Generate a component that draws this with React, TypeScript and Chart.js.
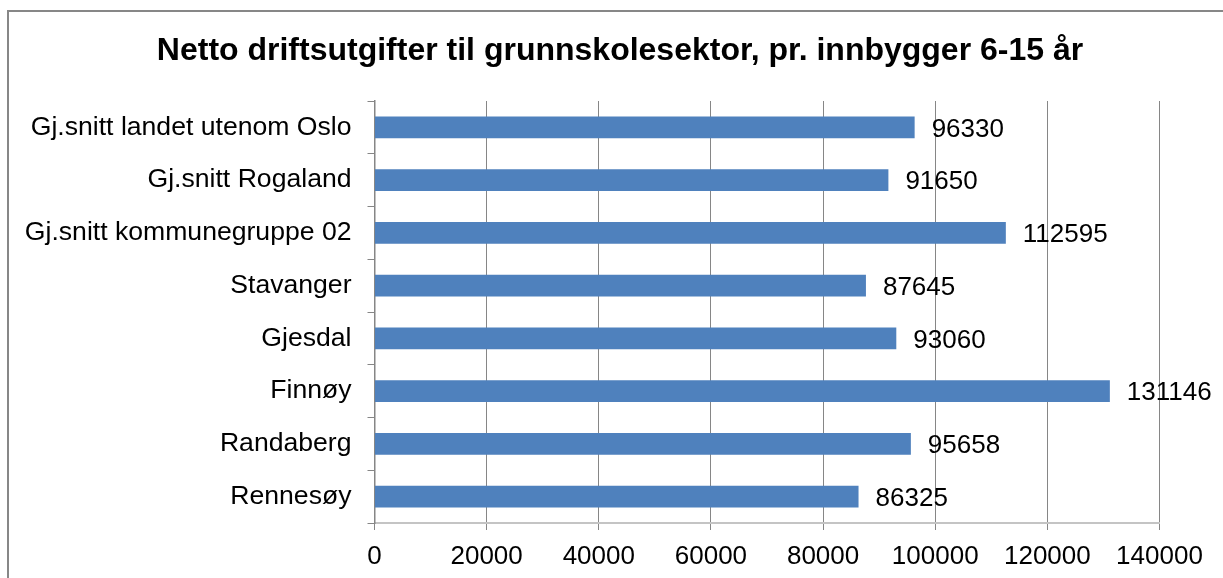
import React, { useEffect, useRef } from "react";
import { Chart, registerables } from "chart.js";

Chart.register(...registerables);

const TITLE = "Netto driftsutgifter til grunnskolesektor, pr. innbygger 6-15 år";
const categories = [
  "Gj.snitt landet utenom Oslo",
  "Gj.snitt Rogaland",
  "Gj.snitt kommunegruppe 02",
  "Stavanger",
  "Gjesdal",
  "Finnøy",
  "Randaberg",
  "Rennesøy",
];
const values = [96330, 91650, 112595, 87645, 93060, 131146, 95658, 86325];
const xTicks = [0, 20000, 40000, 60000, 80000, 100000, 120000, 140000];

const FONT = "'Liberation Sans', Arial, sans-serif";
const W = 1222;
const H = 600;

const valueLabels = {
  id: "valueLabels",
  afterDatasetsDraw(chart: any) {
    const ctx = chart.ctx;
    const meta = chart.getDatasetMeta(0);
    ctx.save();
    ctx.font = `26px ${FONT}`;
    ctx.fillStyle = "#000";
    ctx.textAlign = "left";
    ctx.textBaseline = "middle";
    meta.data.forEach((bar: any, i: number) => {
      ctx.fillText(String(values[i]), bar.x + 17, bar.y + 2);
    });
    ctx.restore();
  },
};

const centeredTitle = {
  id: "centeredTitle",
  afterDraw(chart: any) {
    const ctx = chart.ctx;
    ctx.save();
    ctx.font = `bold 32px ${FONT}`;
    ctx.fillStyle = "#000";
    ctx.textAlign = "center";
    ctx.textBaseline = "middle";
    ctx.fillText(TITLE, chart.width / 2, 39);
    ctx.restore();
  },
};

export default function App() {
  const ref = useRef<HTMLCanvasElement | null>(null);
  useEffect(() => {
    if (!ref.current) return;
    const chart = new Chart(ref.current, {
      type: "bar",
      data: {
        labels: categories,
        datasets: [
          {
            data: values,
            backgroundColor: "#4F81BD",
            borderWidth: 0,
            barPercentage: 0.41,
            categoryPercentage: 1,
          },
        ],
      },
      options: {
        indexAxis: "y",
        responsive: false,
        animation: false,
        devicePixelRatio: 1,
        layout: { padding: { left: 0, right: 71.5, top: 89, bottom: 0 } },
        plugins: {
          legend: { display: false },
          tooltip: { enabled: false },
          title: { display: false },
        },
        scales: {
          x: {
            min: 0,
            max: 140000,
            afterBuildTicks: (scale: any) => {
              scale.ticks = xTicks.map((v) => ({ value: v }));
            },
            afterFit: (scale: any) => {
              scale.height = H - 511;
            },
            grid: {
              color: "#868686",
              lineWidth: 1,
              tickLength: 7,
              drawTicks: true,
            },
            border: { color: "#c4c4c4", width: 2 },
            ticks: {
              color: "#000",
              font: { family: FONT, size: 26 },
              padding: 11,
              maxRotation: 0,
              callback: (v: any) => String(v),
            },
          },
          y: {
            afterFit: (scale: any) => {
              scale.width = 365.5;
            },
            grid: {
              drawOnChartArea: false,
              drawTicks: true,
              tickLength: 7,
              color: "#868686",
              lineWidth: 1,
              offset: true,
            },
            border: { color: "#868686", width: 1.5 },
            ticks: {
              color: "#000",
              font: { family: FONT, size: 26.6 },
              padding: 16,
            },
          },
        },
      },
      plugins: [valueLabels, centeredTitle],
    });
    return () => chart.destroy();
  }, []);

  return (
    <div
      style={{
        position: "fixed",
        inset: 0,
        overflow: "hidden",
        background: "#fff",
      }}
    >
      <div
        style={{
          position: "absolute",
          left: 7,
          top: 10,
          width: W,
          height: H,
          borderLeft: "2px solid #878787",
          borderTop: "2px solid #878787",
          background: "#fff",
        }}
      >
        <canvas ref={ref} width={W} height={H} style={{ display: "block", width: W, height: H }} />
      </div>
    </div>
  );
}
